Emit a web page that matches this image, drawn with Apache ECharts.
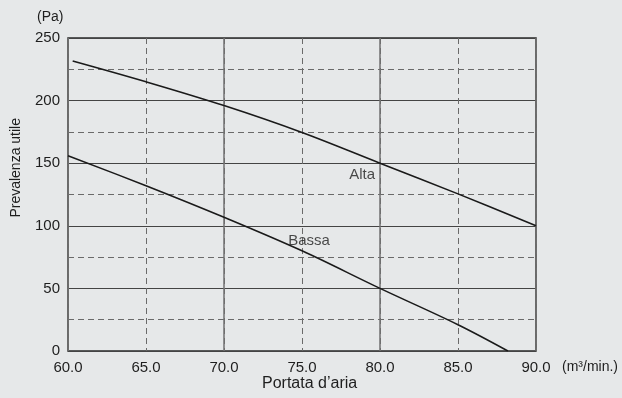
<!DOCTYPE html>
<html>
<head>
<meta charset="utf-8">
<script src="https://cdn.jsdelivr.net/npm/echarts@6/dist/echarts.min.js"></script>
<style>
  html, body { margin: 0; padding: 0; background: #e6e8e9; }
  #chart { width: 622px; height: 398px; }
</style>
</head>
<body>
<div id="chart"></div>
<script>
// Fan curve data: available static pressure (Pa) vs air flow (m³/min.)
const altaFlow = [60.3, 65, 70, 75, 80, 85, 90];
const altaPressure = [231.6, 215, 196, 174.5, 150, 125.5, 100];
const bassaFlow = [60, 65, 70, 75, 80, 85, 88.2];
const bassaPressure = [156, 132, 106.8, 80, 50, 21, 0];
const curveNames = ['Alta', 'Bassa'];
// where each curve's name is written, in axis units
const altaLabelAt = [78.85, 141];
const bassaLabelAt = [75.45, 88.2];

const FONT = '"Liberation Sans", Arial, Helvetica, sans-serif';
const TEXT = '#1e1e1e';

const pairs = (xs, ys) => xs.map((x, i) => [x, ys[i]]);

const chart = echarts.init(document.getElementById('chart'), null, { renderer: 'canvas' });

const dashed = { color: '#6a6a6a', width: 1, type: [6, 4] };

chart.setOption({
  backgroundColor: '#e6e8e9',
  animation: false,
  textStyle: { fontFamily: FONT },
  grid: {
    left: 68, right: 86, top: 38, bottom: 47,
    show: true, borderColor: '#2a2a2a', borderWidth: 1.5,
    backgroundColor: 'transparent'
  },
  xAxis: [
    {
      type: 'value', min: 60, max: 90, interval: 5,
      axisLine: { show: false }, axisTick: { show: false },
      axisLabel: { color: TEXT, fontSize: 15, margin: 9, fontFamily: FONT,
        formatter: v => v.toFixed(1) },
      splitLine: { show: true, lineStyle: dashed }
    },
    {
      type: 'value', min: 60, max: 90, interval: 10, position: 'bottom',
      axisLine: { show: false }, axisTick: { show: false }, axisLabel: { show: false },
      splitLine: { show: true, lineStyle: { color: '#707070', width: 1.5 } }
    }
  ],
  yAxis: [
    {
      type: 'value', min: 0, max: 250, interval: 25,
      axisLine: { show: false }, axisTick: { show: false }, axisLabel: { show: false },
      splitLine: { show: true, lineStyle: dashed }
    },
    {
      type: 'value', min: 0, max: 250, interval: 50, position: 'left',
      axisLine: { show: false }, axisTick: { show: false },
      axisLabel: { color: TEXT, fontSize: 15, margin: 8, fontFamily: FONT },
      splitLine: { show: true, lineStyle: { color: '#444', width: 1 } }
    }
  ],
  series: [
    {
      name: curveNames[0], type: 'line', xAxisIndex: 0, yAxisIndex: 0,
      data: pairs(altaFlow, altaPressure), smooth: 0.35, showSymbol: false,
      lineStyle: { color: '#1a1a1a', width: 1.6 }, z: 5
    },
    {
      name: curveNames[1], type: 'line', xAxisIndex: 0, yAxisIndex: 0,
      data: pairs(bassaFlow, bassaPressure), smooth: 0.35, showSymbol: false,
      lineStyle: { color: '#1a1a1a', width: 1.6 }, z: 5
    },
    {
      type: 'scatter', xAxisIndex: 0, yAxisIndex: 0, symbolSize: 0, silent: true, z: 6,
      data: [
        { value: altaLabelAt, name: curveNames[0] },
        { value: bassaLabelAt, name: curveNames[1] }
      ],
      label: { show: true, position: 'inside', formatter: p => p.name,
        color: TEXT, fontSize: 15, fontFamily: FONT }
    }
  ],
  graphic: [
    { type: 'text', left: 37, top: 10,
      style: { text: '(Pa)', font: '14px ' + FONT, fill: TEXT } },
    { type: 'text', left: 562, top: 360,
      style: { text: '(m³/min.)', font: '14px ' + FONT, fill: TEXT } },
    { type: 'text', left: 262, top: 376,
      style: { text: 'Portata d’aria', font: '16px ' + FONT, fill: TEXT } },
    { type: 'text', left: 9, top: 118, rotation: Math.PI / 2,
      style: { text: 'Prevalenza utile', font: '14px ' + FONT, fill: TEXT } }
  ]
});
</script>
</body>
</html>
